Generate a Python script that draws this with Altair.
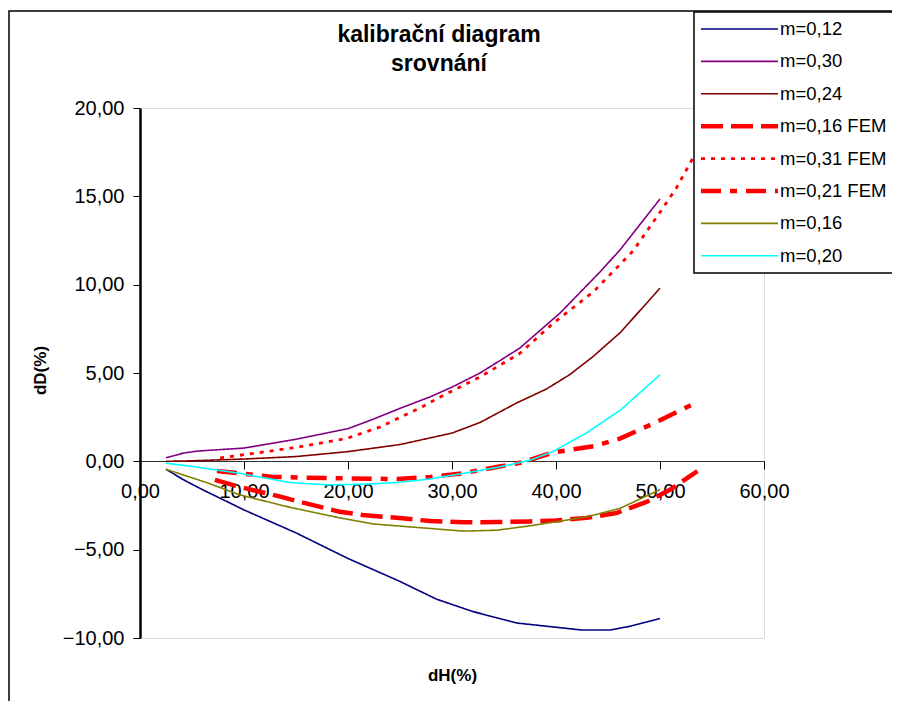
import altair as alt
import pandas as pd

series_names = ["m=0,12", "m=0,30", "m=0,24", "m=0,16 FEM", "m=0,31 FEM",
                "m=0,21 FEM", "m=0,16", "m=0,20"]
colors = ["#000080", "#800080", "#800000", "#FF0000", "#FF0000", "#FF0000",
          "#808000", "#00FFFF"]
dashes = [[1, 0], [1, 0], [1, 0], [22, 8], [4, 6], [20, 9, 7, 9], [1, 0], [1, 0]]
widths = [1.6, 1.6, 1.6, 4.5, 2.8, 4.5, 1.6, 1.6]

x_m012 = [2.5, 4.2, 6.0, 10.0, 15.0, 20.0, 25.0, 28.5, 32.0, 36.2, 42.5, 45.2, 47.0, 50.0]
y_m012 = [-0.45, -1.05, -1.6, -2.75, -4.05, -5.5, -6.8, -7.8, -8.5, -9.15, -9.55, -9.55, -9.35, -8.9]

x_m030 = [2.5, 4.2, 5.5, 10.0, 15.0, 20.0, 22.5, 25.0, 27.9, 30.0, 32.7, 36.5, 40.4, 44.2, 46.2, 50.0]
y_m030 = [0.2, 0.47, 0.58, 0.75, 1.25, 1.85, 2.4, 3.0, 3.65, 4.2, 5.0, 6.4, 8.4, 10.7, 12.0, 14.85]

x_m024 = [2.5, 5.0, 10.0, 15.0, 20.0, 25.0, 30.0, 32.7, 36.2, 39.1, 41.3, 43.5, 46.2, 50.0]
y_m024 = [0.0, 0.03, 0.13, 0.27, 0.55, 0.95, 1.6, 2.2, 3.3, 4.1, 4.9, 5.9, 7.3, 9.8]

x_m016fem = [7.2, 9.6, 13.5, 15.4, 19.2, 21.4, 24.7, 27.9, 31.1, 34.3, 37.5, 40.0, 42.9, 45.8, 48.7, 51.0, 53.6]
y_m016fem = [-1.05, -1.45, -2.0, -2.3, -2.85, -3.04, -3.2, -3.38, -3.45, -3.44, -3.4, -3.35, -3.2, -2.93, -2.3, -1.6, -0.55]

x_m031fem = [7.7, 11.9, 15.1, 19.9, 23.1, 27.2, 28.8, 32.7, 36.5, 39.7, 43.6, 47.4, 50.0, 51.6, 53.1, 53.6]
y_m031fem = [0.19, 0.53, 0.8, 1.3, 1.95, 3.1, 3.63, 4.78, 6.1, 7.8, 9.6, 11.9, 14.1, 15.5, 17.1, 17.4]

x_m021fem = [7.4, 9.6, 12.8, 18.0, 24.7, 27.9, 31.1, 34.3, 36.8, 39.7, 43.6, 46.2, 49.4, 53.4]
y_m021fem = [-0.55, -0.68, -0.88, -0.95, -1.0, -0.88, -0.67, -0.32, -0.05, 0.5, 0.85, 1.3, 2.15, 3.3]

x_m016 = [2.5, 6.4, 9.6, 14.4, 19.2, 22.5, 27.9, 31.1, 34.3, 37.5, 39.7, 42.9, 46.2, 50.0]
y_m016 = [-0.45, -1.2, -1.9, -2.6, -3.2, -3.55, -3.8, -3.95, -3.9, -3.65, -3.45, -3.15, -2.65, -1.6]

x_m020 = [2.5, 4.8, 9.6, 14.4, 18.0, 21.4, 24.7, 27.9, 31.1, 34.3, 37.5, 39.7, 42.9, 46.2, 50.0]
y_m020 = [-0.1, -0.27, -0.68, -1.2, -1.33, -1.3, -1.2, -1.0, -0.68, -0.35, 0.06, 0.55, 1.6, 2.9, 4.9]

x_ticks = [0, 10, 20, 30, 40, 50, 60]
y_ticks = [-10, -5, 0, 5, 10, 15, 20]

title_lines = ["kalibrační diagram", "srovnání"]

all_x = [x_m012, x_m030, x_m024, x_m016fem, x_m031fem, x_m021fem, x_m016, x_m020]
all_y = [y_m012, y_m030, y_m024, y_m016fem, y_m031fem, y_m021fem, y_m016, y_m020]

rows = []
for name, w, xs, ys in zip(series_names, widths, all_x, all_y):
    for i, (xv, yv) in enumerate(zip(xs, ys)):
        rows.append({"series": name, "dH": xv, "dD": yv, "idx": i, "sw": w})
df = pd.DataFrame(rows)

FONT = "Liberation Sans"
fmt = "replace(format(datum.value, '.2f'), '.', ',')"

sw_expr = ("(((datum.value == 'm=0,16 FEM') || (datum.value == 'm=0,21 FEM')) ? 4.5 : "
           "((datum.value == 'm=0,31 FEM') ? 2.8 : 1.6))")

legend = alt.Legend(
    title=None, orient="none", legendX=554, legendY=-101,
    symbolType="stroke", symbolSize=5929, labelFont=FONT, labelFontSize=18.5,
    labelColor="black", padding=6, rowPadding=0.4, labelOffset=1, labelLimit=300,
    clipHeight=32, symbolStrokeWidth=alt.ExprRef(sw_expr),
)

lines = alt.Chart(df).mark_line(clip=False).encode(
    x=alt.X("dH:Q", scale=alt.Scale(domain=[0, 60], nice=False, zero=False),
            axis=alt.Axis(values=x_ticks, offset=-177, labelExpr=fmt, title="dH(%)",
                          titleX=312, titleY=214, titleBaseline="middle",
                          titleFont=FONT, titleFontSize=17, titleFontWeight="bold",
                          labelFont=FONT, labelFontSize=20, labelColor="black",
                          labelPadding=12, tickSize=8, tickColor="black",
                          domainColor="#333333", domainWidth=1, grid=False,
                          titleColor="black", labelFlush=False, labelOverlap=False)),
    y=alt.Y("dD:Q", scale=alt.Scale(domain=[-10, 20], nice=False, zero=False),
            axis=alt.Axis(values=y_ticks, labelExpr=fmt, title="dD(%)",
                          titleX=-100, titleY=262, titleBaseline="middle", titleAlign="center",
                          titleFont=FONT, titleFontSize=17, titleFontWeight="bold",
                          labelFont=FONT, labelFontSize=20, labelColor="black",
                          labelPadding=9, tickSize=7, tickColor="black",
                          domainColor="black", domainWidth=2.5, grid=False,
                          titleColor="black", labelFlush=False, labelOverlap=False)),
    color=alt.Color("series:N", scale=alt.Scale(domain=series_names, range=colors), legend=legend),
    strokeDash=alt.StrokeDash("series:N", scale=alt.Scale(domain=series_names, range=dashes), legend=legend),
    strokeWidth=alt.StrokeWidth("sw:Q", scale=None, legend=None),
    detail="series:N",
    order="idx:Q",
)

one = pd.DataFrame({"a": [0]})

frame = alt.Chart(one).mark_rect(
    fill="transparent", stroke="black", strokeWidth=1.5, clip=False
).encode(
    x=alt.value(-131), x2=alt.value(900), y=alt.value(-97), y2=alt.value(700)
)

legend_box = alt.Chart(one).mark_rect(
    fill="white", stroke="black", strokeWidth=1.5, clip=False
).encode(
    x=alt.value(554), x2=alt.value(800), y=alt.value(-96), y2=alt.value(165)
)

title_style = dict(font=FONT, fontSize=23, fontWeight="bold", color="black",
                   align="center", baseline="middle")
title1 = alt.Chart(one).mark_text(text=title_lines[0], **title_style).encode(
    x=alt.value(299), y=alt.value(-73))
title2 = alt.Chart(one).mark_text(text=title_lines[1], **title_style).encode(
    x=alt.value(299), y=alt.value(-44))

chart = alt.layer(frame, lines, legend_box, title1, title2).properties(
    width=624, height=530,
    autosize=alt.AutoSizeParams(type="none"),
    padding={"left": 132, "top": 100, "right": 128, "bottom": 63},
).configure_view(stroke="black", strokeWidth=2).configure(background="white")

chart.save("out.html", embed_options={"renderer": "svg", "actions": False})
